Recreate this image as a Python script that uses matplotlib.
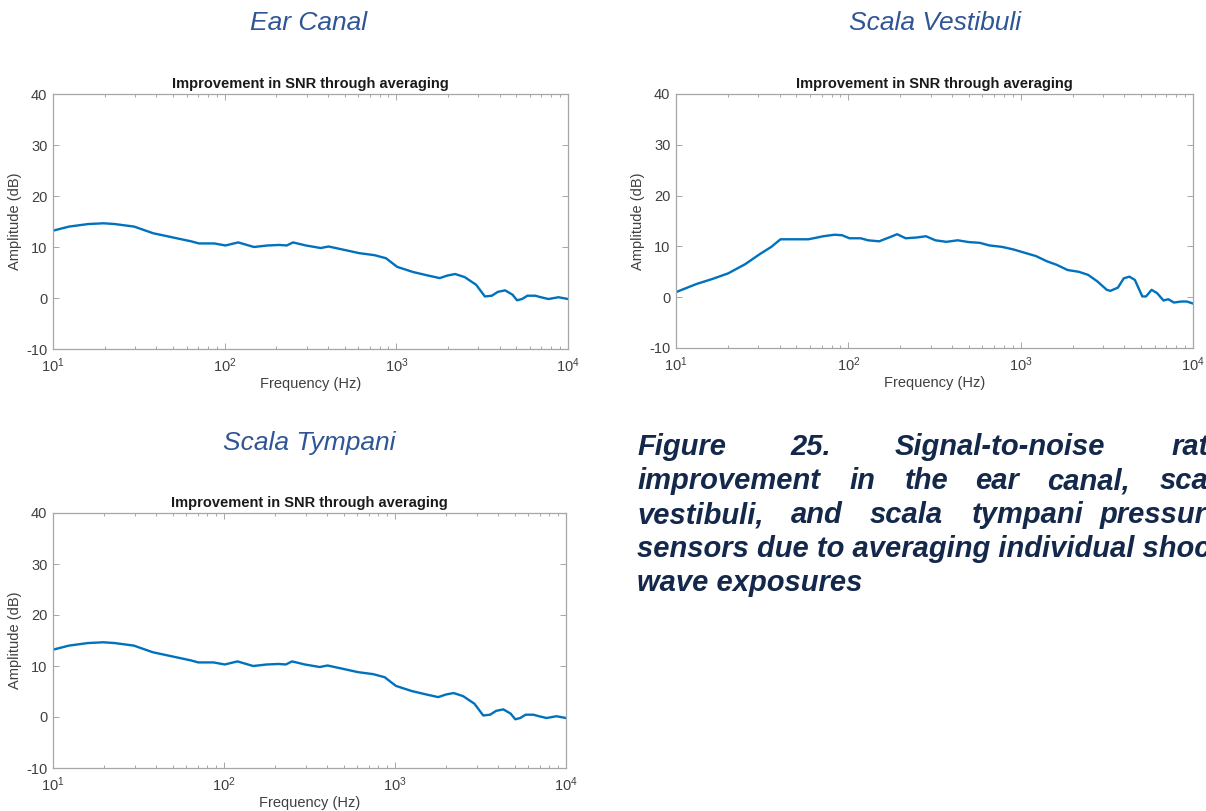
import numpy as np
import matplotlib
matplotlib.use("Agg")
import matplotlib.pyplot as plt
from matplotlib.ticker import LogLocator, NullFormatter

plt.rcParams['font.family'] = ['Liberation Sans', 'DejaVu Sans']
plt.rcParams['mathtext.default'] = 'regular'
plt.rcParams['axes.unicode_minus'] = False

# ---- data: SNR improvement (dB) vs frequency (Hz) ----
ear_freq = [10, 12.4, 16.0, 19.7, 22.9, 29.7, 38.3, 49.5, 64, 70.8, 86.9, 101,
            120, 148, 178, 208, 230, 250, 297, 363, 403, 495, 607, 746, 870,
            1012, 1250, 1532, 1790, 1980, 2200, 2500, 2915, 3280, 3600, 3900,
            4300, 4750, 5050, 5400, 5800, 6450, 6950, 7700, 8800, 10000]
ear_db = [13.2, 14.0, 14.5, 14.65, 14.5, 14.0, 12.7, 11.9, 11.1, 10.7, 10.7, 10.3,
          10.9, 10.0, 10.3, 10.4, 10.3, 10.9, 10.3, 9.8, 10.1, 9.45, 8.8, 8.4, 7.8,
          6.1, 5.1, 4.4, 3.9, 4.4, 4.7, 4.1, 2.6, 0.3, 0.45, 1.2,
          1.5, 0.65, -0.45, -0.2, 0.45, 0.45, 0.15, -0.2, 0.15, -0.2]

sv_freq = [10, 13.15, 16.3, 20.1, 25.2, 30.7, 35.7, 40.4, 48.0, 58.6, 64.9, 71.6,
           83.2, 91.9, 101.5, 118, 130, 151, 172, 192, 215, 249, 282, 320, 371,
           431, 500, 580, 656, 781, 908, 1054, 1226, 1424, 1613, 1872, 2175,
           2462, 2789, 3160, 3320, 3670, 3960, 4270, 4600, 5080, 5340, 5750,
           6190, 6740, 7190, 7750, 8560, 9220, 10000]
sv_db = [1.0, 2.6, 3.6, 4.7, 6.5, 8.5, 9.9, 11.4, 11.4, 11.4, 11.7, 12.0,
         12.3, 12.2, 11.6, 11.6, 11.2, 11.0, 11.75, 12.4, 11.6, 11.75, 12.0, 11.2, 10.9,
         11.2, 10.85, 10.7, 10.2, 9.9, 9.4, 8.75, 8.1, 7.05, 6.4, 5.35, 5.0,
         4.4, 3.1, 1.45, 1.25, 1.9, 3.7, 4.05, 3.4, 0.15, 0.15, 1.45,
         0.8, -0.65, -0.4, -1.05, -0.85, -0.85, -1.25]

st_freq = [10, 12.4, 16.0, 19.7, 22.9, 29.7, 38.3, 49.5, 64, 70.8, 86.9, 101,
           120, 148, 178, 208, 230, 250, 297, 363, 403, 495, 607, 746, 870,
           1012, 1250, 1532, 1790, 1980, 2200, 2500, 2915, 3280, 3600, 3900,
           4300, 4750, 5050, 5400, 5800, 6450, 6950, 7700, 8800, 10000]
st_db = [13.2, 14.0, 14.5, 14.65, 14.5, 14.0, 12.7, 11.9, 11.1, 10.7, 10.7, 10.3,
         10.9, 10.0, 10.3, 10.4, 10.3, 10.9, 10.3, 9.8, 10.1, 9.45, 8.8, 8.4, 7.8,
         6.1, 5.1, 4.4, 3.9, 4.4, 4.7, 4.1, 2.6, 0.3, 0.45, 1.2,
         1.5, 0.65, -0.45, -0.2, 0.45, 0.45, 0.15, -0.2, 0.15, -0.2]

panel_names = ["Ear Canal", "Scala Vestibuli", "Scala Tympani"]
plot_title = "Improvement in SNR through averaging"
x_label = "Frequency (Hz)"
y_label = "Amplitude (dB)"
y_ticks = [-10, 0, 10, 20, 30, 40]

caption_lines = [
    ["Figure", "25.", "Signal-to-noise", "ratio"],
    ["improvement", "in", "the", "ear", "canal,", "scala"],
    ["vestibuli,", "and", "scala", "tympani", "pressure"],
    ["sensors due to averaging individual shock"],
    ["wave exposures"],
]

W, H = 1206, 811
fig = plt.figure(figsize=(W / 100, H / 100), dpi=100)

LINE_BLUE = '#0072BD'
HEAD_BLUE = '#2F5597'
CAP_NAVY = '#13284A'
AX_GRAY = '#A6A6A6'
TXT_GRAY = '#404040'


def px_axes(l, r, t, b):
    return fig.add_axes([l / W, 1 - b / H, (r - l) / W, (b - t) / H])


def style_axes(ax, freq, db):
    ax.plot(freq, db, color=LINE_BLUE, lw=1.7)
    ax.set_xscale('log')
    ax.set_xlim(10, 10000)
    ax.set_ylim(-10, 40)
    ax.set_yticks(y_ticks)
    ax.xaxis.set_major_locator(LogLocator(base=10, numticks=10))
    ax.xaxis.set_minor_locator(LogLocator(base=10, subs=np.arange(2, 10), numticks=20))
    ax.xaxis.set_minor_formatter(NullFormatter())
    ax.tick_params(which='both', direction='in', top=True, right=True,
                   colors=AX_GRAY, labelcolor=TXT_GRAY, labelsize=10.5, width=0.7)
    ax.tick_params(which='major', length=4, pad=4)
    ax.tick_params(axis='x', which='major', pad=5)
    ax.tick_params(which='minor', length=2.5)
    for s in ax.spines.values():
        s.set_color(AX_GRAY)
        s.set_linewidth(0.9)
    ax.set_title(plot_title, fontsize=10.5, fontweight='bold', color='#1a1a1a', pad=4)
    ax.set_xlabel(x_label, fontsize=10.5, color=TXT_GRAY, labelpad=2)
    ax.set_ylabel(y_label, fontsize=10.5, color=TXT_GRAY, labelpad=3)


ax1 = px_axes(53, 568, 94, 349)
style_axes(ax1, ear_freq, ear_db)
ax2 = px_axes(676, 1193, 94, 348)
style_axes(ax2, sv_freq, sv_db)
ax3 = px_axes(53, 566, 513, 768)
style_axes(ax3, st_freq, st_db)

# panel headings
for name, (cx, cy) in zip(panel_names, [(309, 23), (935, 23), (309, 443)]):
    fig.text(cx / W, 1 - cy / H, name, ha='center', va='center', fontsize=19,
             style='italic', color=HEAD_BLUE)

# justified caption, words placed at their line positions
word_x = [
    [637, 790, 895, 1172],
    [637, 849, 905, 975, 1047, 1160],
    [637, 791, 870, 972, 1100],
    [637],
    [637],
]
baselines = [455, 489, 523, 557, 591]
for words, xs, yb in zip(caption_lines, word_x, baselines):
    for w, x in zip(words, xs):
        fig.text(x / W, 1 - yb / H, w, ha='left', va='baseline', fontsize=21,
                 style='italic', fontweight='bold', color=CAP_NAVY)

fig.savefig('out.png', dpi=100)
